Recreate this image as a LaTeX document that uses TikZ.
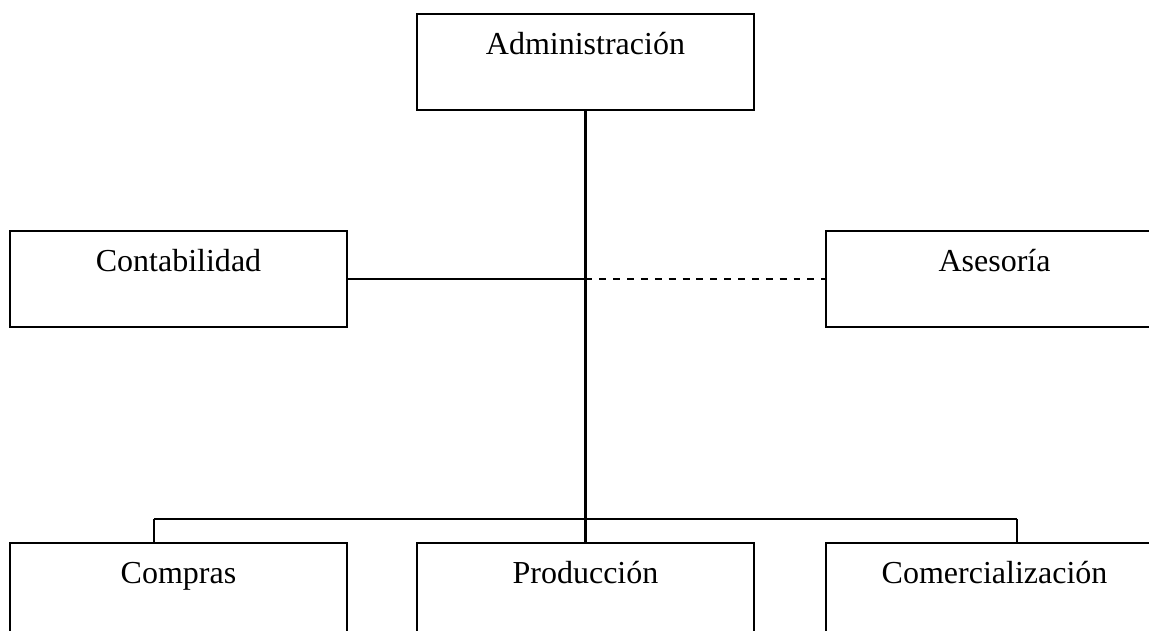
\documentclass[tikz,border=0pt]{standalone}
\usepackage{fontspec}
\setmainfont{Liberation Serif}
\usetikzlibrary{positioning,calc}

\begin{document}
\begin{tikzpicture}
  \tikzstyle{unit}=[rectangle, draw, line width=0.9pt, minimum width=4.44cm, minimum height=1.265cm, inner sep=0pt]
  \tikzstyle{unitname}=[font=\fontsize{12}{14}\selectfont, inner sep=0pt, anchor=base]
  \tikzstyle{link}=[line width=0.9pt]
  \tikzstyle{advice}=[line width=0.9pt, dash pattern=on 2.6pt off 2.6pt]

  \useasboundingbox (0,0) rectangle (15.139,-8.314);

  % Direccion
  \node[unit] (adm) at (7.714,-0.817) {};
  \node[unitname] (adm-t) at ([yshift=-0.55cm]adm.north) {Administración};

  % Staff
  \node[unit] (cont) at (2.352,-3.676) {};
  \node[unitname] (cont-t) at ([yshift=-0.55cm]cont.north) {Contabilidad};
  \node[unit] (ases) at (13.104,-3.676) {};
  \node[unitname] (ases-t) at ([yshift=-0.55cm]ases.north) {Asesoría};

  % Areas
  \node[unit] (comp) at (2.352,-7.787) {};
  \node[unitname] (comp-t) at ([yshift=-0.55cm]comp.north) {Compras};
  \node[unit] (prod) at (7.714,-7.787) {};
  \node[unitname] (prod-t) at ([yshift=-0.55cm]prod.north) {Producción};
  \node[unit] (come) at (13.104,-7.787) {};
  \node[unitname] (come-t) at ([yshift=-0.55cm]come.north) {Comercialización};

  % Lineas
  \coordinate (mid) at (adm.south |- cont.east);
  \coordinate (bm) at (7.714,-6.838);
  \coordinate (bl) at (2.029,-6.838);
  \coordinate (br) at (13.400,-6.838);
  \draw[link] (adm.south) -- (bm);
  \draw[link] (cont.east) -- (mid);
  \draw[advice] (mid) -- (ases.west);
  \draw[link] (bl) -- (br);
  \draw[link] (bl) -- (bl |- comp.north);
  \draw[link] (bm) -- (prod.north);
  \draw[link] (br) -- (br |- come.north);
\end{tikzpicture}
\end{document}
